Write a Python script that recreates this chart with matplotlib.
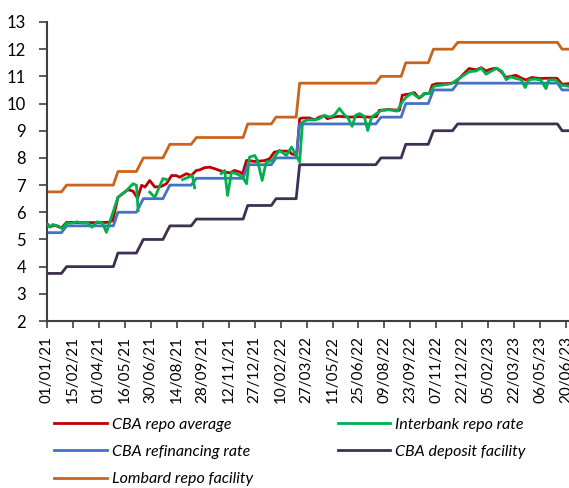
import matplotlib
matplotlib.use("Agg")
import matplotlib.pyplot as plt
import matplotlib.dates as mdates
import numpy as np
import pandas as pd

# CBA policy corridor: dates where the line changes level (corner points)
policy_dates = ["2021-01-01", "2021-01-26", "2021-02-04", "2021-04-26", "2021-05-04",
                "2021-06-05", "2021-06-17", "2021-07-21", "2021-08-02", "2021-09-08",
                "2021-09-17", "2021-12-07", "2021-12-15", "2022-01-25", "2022-02-02",
                "2022-03-09", "2022-03-15", "2022-07-25", "2022-08-03", "2022-09-07",
                "2022-09-15", "2022-10-24", "2022-11-02", "2022-12-05", "2022-12-14",
                "2023-06-05", "2023-06-13", "2023-06-23"]
refi_rate = [5.25, 5.25, 5.5, 5.5, 6.0, 6.0, 6.5, 6.5, 7.0, 7.0, 7.25, 7.25, 7.75, 7.75,
             8.0, 8.0, 9.25, 9.25, 9.5, 9.5, 10.0, 10.0, 10.5, 10.5, 10.75, 10.75, 10.5, 10.5]
lombard_rate = [6.75, 6.75, 7.0, 7.0, 7.5, 7.5, 8.0, 8.0, 8.5, 8.5, 8.75, 8.75, 9.25, 9.25,
                9.5, 9.5, 10.75, 10.75, 11.0, 11.0, 11.5, 11.5, 12.0, 12.0, 12.25, 12.25, 12.0, 12.0]
deposit_rate = [3.75, 3.75, 4.0, 4.0, 4.5, 4.5, 5.0, 5.0, 5.5, 5.5, 5.75, 5.75, 6.25, 6.25,
                6.5, 6.5, 7.75, 7.75, 8.0, 8.0, 8.5, 8.5, 9.0, 9.0, 9.25, 9.25, 9.0, 9.0]

repo_avg_dates = ["2021-01-01", "2021-01-06", "2021-01-15", "2021-01-26", "2021-02-04",
                  "2021-03-01", "2021-04-01", "2021-04-17", "2021-04-25", "2021-05-04",
                  "2021-05-12", "2021-05-21", "2021-05-30", "2021-06-07", "2021-06-14",
                  "2021-06-20", "2021-06-28", "2021-07-07", "2021-07-18", "2021-07-27",
                  "2021-08-05", "2021-08-13", "2021-08-19", "2021-08-31", "2021-09-08",
                  "2021-09-17", "2021-09-23", "2021-10-01", "2021-10-10", "2021-10-19",
                  "2021-10-27", "2021-11-05", "2021-11-14", "2021-11-22", "2021-12-01",
                  "2021-12-06", "2021-12-13", "2021-12-27", "2022-01-13", "2022-01-22",
                  "2022-01-30", "2022-02-08", "2022-02-25", "2022-03-01", "2022-03-10",
                  "2022-03-15", "2022-03-20", "2022-04-01", "2022-04-10", "2022-04-18",
                  "2022-04-27", "2022-05-02", "2022-05-11", "2022-05-23", "2022-06-09",
                  "2022-06-27", "2022-07-14", "2022-07-26", "2022-07-31", "2022-08-17",
                  "2022-09-04", "2022-09-09", "2022-09-21", "2022-09-30", "2022-10-08",
                  "2022-10-17", "2022-10-26", "2022-10-31", "2022-11-07", "2022-11-21",
                  "2022-12-04", "2022-12-11", "2022-12-22", "2023-01-03", "2023-01-15",
                  "2023-01-24", "2023-02-01", "2023-02-10", "2023-02-19", "2023-02-27",
                  "2023-03-08", "2023-03-16", "2023-03-25", "2023-04-03", "2023-04-11",
                  "2023-04-22", "2023-05-04", "2023-05-16", "2023-05-26", "2023-06-04",
                  "2023-06-13", "2023-06-23"]
repo_avg = [5.58, 5.47, 5.52, 5.42, 5.63, 5.62, 5.62, 5.63, 5.69, 6.55,
            6.68, 6.83, 6.78, 6.52, 6.99, 6.93, 7.17, 6.93, 6.95, 7.05,
            7.35, 7.35, 7.29, 7.42, 7.35, 7.54, 7.56, 7.64, 7.66, 7.60,
            7.54, 7.48, 7.45, 7.54, 7.48, 7.42, 7.91, 7.87, 7.90, 7.97,
            8.21, 8.25, 8.25, 8.15, 8.10, 9.44, 9.47, 9.47, 9.40, 9.50,
            9.55, 9.44, 9.50, 9.53, 9.50, 9.52, 9.50, 9.52, 9.75, 9.78,
            9.75, 10.31, 10.35, 10.40, 10.20, 10.35, 10.38, 10.68, 10.73, 10.73,
            10.75, 10.79, 11.04, 11.29, 11.24, 11.32, 11.20, 11.27, 11.30, 11.18,
            10.96, 11.00, 11.04, 10.94, 10.87, 10.96, 10.92, 10.93, 10.93, 10.93,
            10.71, 10.73]

interbank_dates = ["2021-01-01", "2021-01-06", "2021-01-11", "2021-01-20", "2021-01-28",
                   "2021-02-04", "2021-02-13", "2021-02-22", "2021-03-04", "2021-03-13",
                   "2021-03-20", "2021-03-29", "2021-04-07", "2021-04-14", "2021-05-04",
                   "2021-05-19", "2021-05-30", "2021-06-05", "2021-06-08", "2021-06-15",
                   "2021-06-28", "2021-07-07", "2021-07-21", "2021-07-28", "2021-08-05",
                   "2021-08-24", "2021-09-10", "2021-09-14", "2021-09-20", "2021-10-30",
                   "2021-11-05", "2021-11-10", "2021-11-17", "2021-11-27", "2021-12-06",
                   "2021-12-13", "2021-12-18", "2021-12-27", "2022-01-01", "2022-01-09",
                   "2022-01-16", "2022-01-26", "2022-02-08", "2022-02-20", "2022-03-01",
                   "2022-03-06", "2022-03-15", "2022-03-20", "2022-03-29", "2022-04-10",
                   "2022-04-18", "2022-04-27", "2022-05-06", "2022-05-14", "2022-05-23",
                   "2022-06-01", "2022-06-06", "2022-06-14", "2022-06-20", "2022-06-27",
                   "2022-07-05", "2022-07-11", "2022-07-18", "2022-07-26", "2022-08-04",
                   "2022-08-17", "2022-08-31", "2022-09-09", "2022-09-16", "2022-09-26",
                   "2022-10-05", "2022-10-12", "2022-10-17", "2022-10-26", "2022-11-03",
                   "2022-11-17", "2022-12-03", "2022-12-16", "2023-01-03", "2023-01-15",
                   "2023-01-24", "2023-02-01", "2023-02-11", "2023-02-20", "2023-03-01",
                   "2023-03-08", "2023-03-16", "2023-03-25", "2023-04-03", "2023-04-10",
                   "2023-04-16", "2023-04-25", "2023-05-07", "2023-05-16", "2023-05-21",
                   "2023-06-02", "2023-06-11", "2023-06-23"]
interbank = [5.55, 5.45, 5.55, 5.50, 5.40, 5.60, 5.60, 5.65, 5.60, 5.60,
             5.45, 5.65, 5.60, 5.26, 6.55, 6.80, 7.05, 7.00, 6.06, np.nan,
             6.74, 6.55, 7.24, 7.20, np.nan, 7.20, 7.35, 6.90, np.nan, 7.42,
             7.54, 6.62, 7.48, 7.40, 7.30, 7.05, 8.03, 8.09, 7.90, 7.17,
             7.85, 7.90, 8.28, 8.09, 8.40, 8.21, 7.85, 9.32, 9.40, 9.40,
             9.44, 9.57, 9.50, 9.57, 9.82, 9.57, 9.50, 9.16, 9.57, 9.63,
             9.53, 9.01, 9.50, 9.63, 9.75, 9.77, 9.72, 10.06, 10.24, 10.39,
             10.24, 10.24, 10.38, 10.36, 10.64, 10.68, 10.73, 10.92, 11.17, 11.20,
             11.30, 11.08, 11.20, 11.30, 11.18, 10.88, 10.98, 10.92, 10.88, 10.59,
             10.87, 10.90, 10.87, 10.55, 10.87, 10.87, 10.68, 10.64]

policy_dates = pd.to_datetime(policy_dates)
repo_avg_dates = pd.to_datetime(repo_avg_dates)
interbank_dates = pd.to_datetime(interbank_dates)

plt.rcParams["font.family"] = ["Lato", "DejaVu Sans"]

fig = plt.figure(figsize=(5.69, 4.88), dpi=100)
ax = fig.add_axes([47 / 569, 167 / 488, 522 / 569, 299 / 488])

lw = 2.0
l_red, = ax.plot(repo_avg_dates, repo_avg, color="#C00000", lw=lw, label="CBA repo average")
l_blue, = ax.plot(policy_dates, refi_rate, color="#4472C4", lw=lw, label="CBA refinancing rate")
l_orange, = ax.plot(policy_dates, lombard_rate, color="#C8641E", lw=lw, label="Lombard repo facility")
l_green, = ax.plot(interbank_dates, interbank, color="#00B050", lw=lw, label="Interbank repo rate")
l_purple, = ax.plot(policy_dates, deposit_rate, color="#3D3050", lw=lw, label="CBA deposit facility")
# interbank drawn above the repo average, as in the original
l_green.set_zorder(3)
l_blue.set_zorder(2.5)

ax.set_ylim(2, 13)
ax.set_yticks(range(2, 14))
ax.set_xlim(pd.Timestamp("2021-01-01"), pd.Timestamp("2023-06-25"))
ax.set_xticks(pd.date_range("2021-01-01", periods=21, freq="45D"))
ax.xaxis.set_major_formatter(mdates.DateFormatter("%d/%m/%y"))
ax.tick_params(axis="x", rotation=90, labelsize=11, length=5, width=1.2, color="#404040", pad=6)
ax.tick_params(axis="y", labelsize=12, length=6, width=1.2, color="#404040", pad=9)

for s in ["top", "right"]:
    ax.spines[s].set_visible(False)
for s in ["left", "bottom"]:
    ax.spines[s].set_color("#404040")
    ax.spines[s].set_linewidth(1.5)

fig.legend(handles=[l_red, l_blue, l_orange, l_green, l_purple], ncol=2,
           loc="upper left", bbox_to_anchor=(40 / 569, 1 - 403 / 488),
           frameon=False, handlelength=3.3, handletextpad=0.3,
           columnspacing=5.3, labelspacing=0.82,
           prop={"family": ["Lato", "DejaVu Sans"], "style": "italic", "size": 11.5})

fig.savefig("out.png", dpi=100)
